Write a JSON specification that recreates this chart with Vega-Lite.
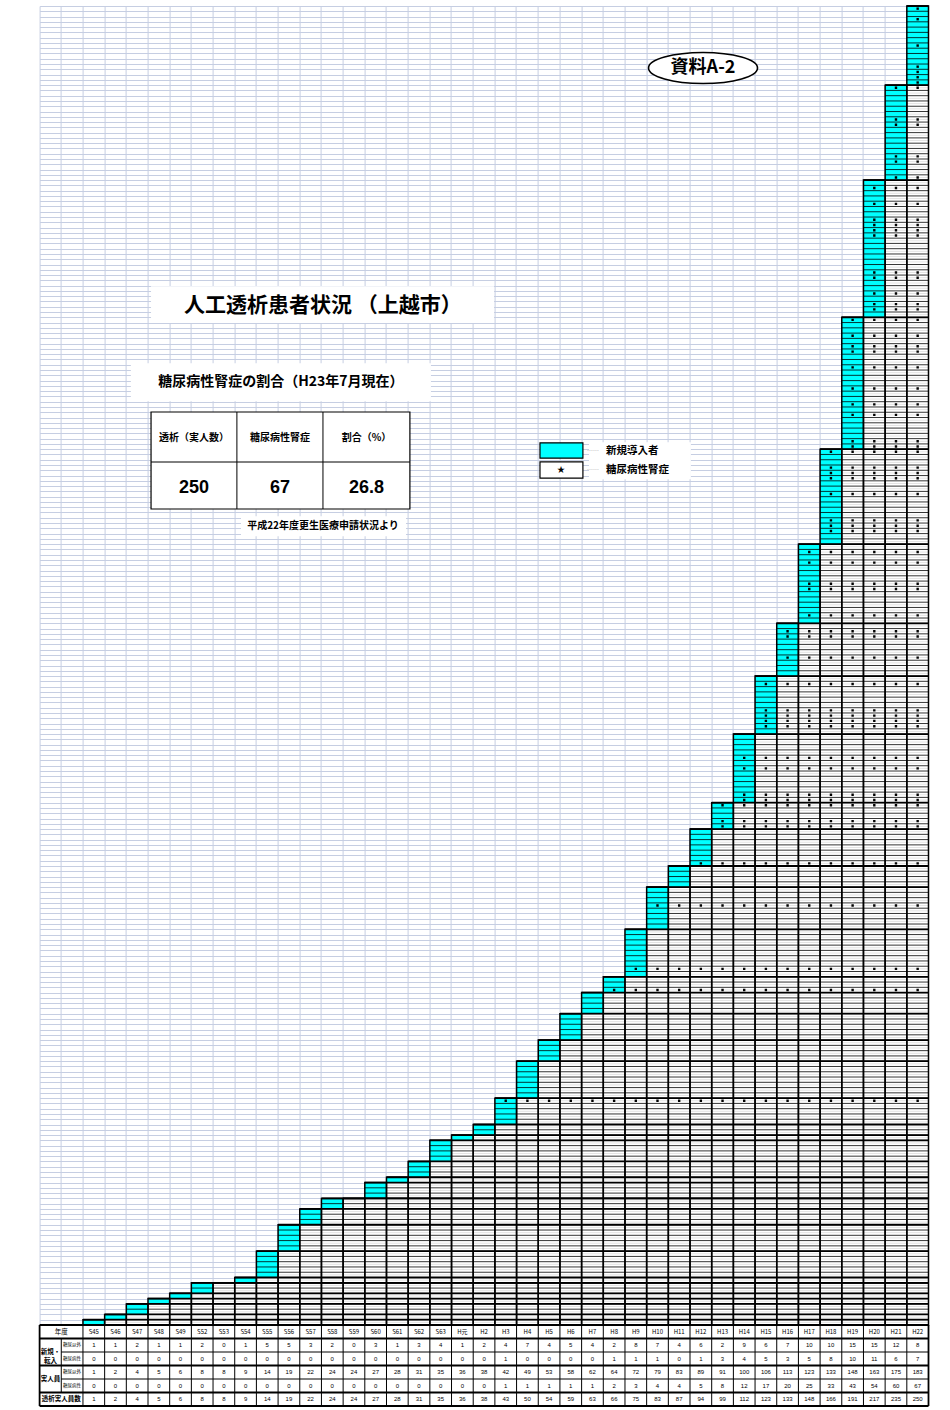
{
"$schema": "https://vega.github.io/schema/vega-lite/v6.json",
"padding": {"left": 38.6, "top": 5, "right": 0, "bottom": 0},
"background": "white",
"spacing": 0,
"bounds": "flush",
"resolve": {"scale": {"x": "independent", "y": "independent"}},
"config": {"view": {"stroke": null}, "font": "Noto Sans CJK JP"},
"datasets": {
"cols": [
{"y":"S45","a":1,"b":0,"c":1,"d":0,"t":1,"p":0},
{"y":"S46","a":1,"b":0,"c":2,"d":0,"t":2,"p":1},
{"y":"S47","a":2,"b":0,"c":4,"d":0,"t":4,"p":2},
{"y":"S48","a":1,"b":0,"c":5,"d":0,"t":5,"p":4},
{"y":"S49","a":1,"b":0,"c":6,"d":0,"t":6,"p":5},
{"y":"S52","a":2,"b":0,"c":8,"d":0,"t":8,"p":6},
{"y":"S53","a":0,"b":0,"c":8,"d":0,"t":8,"p":8},
{"y":"S54","a":1,"b":0,"c":9,"d":0,"t":9,"p":8},
{"y":"S55","a":5,"b":0,"c":14,"d":0,"t":14,"p":9},
{"y":"S56","a":5,"b":0,"c":19,"d":0,"t":19,"p":14},
{"y":"S57","a":3,"b":0,"c":22,"d":0,"t":22,"p":19},
{"y":"S58","a":2,"b":0,"c":24,"d":0,"t":24,"p":22},
{"y":"S59","a":0,"b":0,"c":24,"d":0,"t":24,"p":24},
{"y":"S60","a":3,"b":0,"c":27,"d":0,"t":27,"p":24},
{"y":"S61","a":1,"b":0,"c":28,"d":0,"t":28,"p":27},
{"y":"S62","a":3,"b":0,"c":31,"d":0,"t":31,"p":28},
{"y":"S63","a":4,"b":0,"c":35,"d":0,"t":35,"p":31},
{"y":"H元","a":1,"b":0,"c":36,"d":0,"t":36,"p":35},
{"y":"H2","a":2,"b":0,"c":38,"d":0,"t":38,"p":36},
{"y":"H3","a":4,"b":1,"c":42,"d":1,"t":43,"p":38},
{"y":"H4","a":7,"b":0,"c":49,"d":1,"t":50,"p":43},
{"y":"H5","a":4,"b":0,"c":53,"d":1,"t":54,"p":50},
{"y":"H6","a":5,"b":0,"c":58,"d":1,"t":59,"p":54},
{"y":"H7","a":4,"b":0,"c":62,"d":1,"t":63,"p":59},
{"y":"H8","a":2,"b":1,"c":64,"d":2,"t":66,"p":63},
{"y":"H9","a":8,"b":1,"c":72,"d":3,"t":75,"p":66},
{"y":"H10","a":7,"b":1,"c":79,"d":4,"t":83,"p":75},
{"y":"H11","a":4,"b":0,"c":83,"d":4,"t":87,"p":83},
{"y":"H12","a":6,"b":1,"c":89,"d":5,"t":94,"p":87},
{"y":"H13","a":2,"b":3,"c":91,"d":8,"t":99,"p":94},
{"y":"H14","a":9,"b":4,"c":100,"d":12,"t":112,"p":99},
{"y":"H15","a":6,"b":5,"c":106,"d":17,"t":123,"p":112},
{"y":"H16","a":7,"b":3,"c":113,"d":20,"t":133,"p":123},
{"y":"H17","a":10,"b":5,"c":123,"d":25,"t":148,"p":133},
{"y":"H18","a":10,"b":8,"c":133,"d":33,"t":166,"p":148},
{"y":"H19","a":15,"b":10,"c":148,"d":43,"t":191,"p":166},
{"y":"H20","a":15,"b":11,"c":163,"d":54,"t":217,"p":191},
{"y":"H21","a":12,"b":6,"c":175,"d":60,"t":235,"p":217},
{"y":"H22","a":8,"b":7,"c":183,"d":67,"t":250,"p":235}
],
"pts": [
{"k":1,"s":"S45"},{"k":2,"s":"S46"},{"k":3,"s":"S47"},{"k":4,"s":"S47"},{"k":5,"s":"S48"},{"k":6,"s":"S49"},{"k":7,"s":"S52"},{"k":8,"s":"S52"},{"k":9,"s":"S54"},
{"k":10,"s":"S55"},{"k":11,"s":"S55"},{"k":12,"s":"S55"},{"k":13,"s":"S55"},{"k":14,"s":"S55"},
{"k":15,"s":"S56"},{"k":16,"s":"S56"},{"k":17,"s":"S56"},{"k":18,"s":"S56"},{"k":19,"s":"S56"},
{"k":20,"s":"S57"},{"k":21,"s":"S57"},{"k":22,"s":"S57"},{"k":23,"s":"S58"},{"k":24,"s":"S58"},
{"k":25,"s":"S60"},{"k":26,"s":"S60"},{"k":27,"s":"S60"},{"k":28,"s":"S61"},
{"k":29,"s":"S62"},{"k":30,"s":"S62"},{"k":31,"s":"S62"},
{"k":32,"s":"S63"},{"k":33,"s":"S63"},{"k":34,"s":"S63"},{"k":35,"s":"S63"},
{"k":36,"s":"H元"},{"k":37,"s":"H2"},{"k":38,"s":"H2"},
{"k":39,"s":"H3"},{"k":40,"s":"H3"},{"k":41,"s":"H3"},{"k":42,"s":"H3"},{"k":43,"s":"H3","d":1},
{"k":44,"s":"H4"},{"k":45,"s":"H4"},{"k":46,"s":"H4"},{"k":47,"s":"H4"},{"k":48,"s":"H4"},{"k":49,"s":"H4"},{"k":50,"s":"H4"},
{"k":51,"s":"H5"},{"k":52,"s":"H5"},{"k":53,"s":"H5"},{"k":54,"s":"H5"},
{"k":55,"s":"H6"},{"k":56,"s":"H6"},{"k":57,"s":"H6"},{"k":58,"s":"H6"},{"k":59,"s":"H6"},
{"k":60,"s":"H7"},{"k":61,"s":"H7"},{"k":62,"s":"H7"},{"k":63,"s":"H7"},
{"k":64,"s":"H8","d":1},{"k":65,"s":"H8"},{"k":66,"s":"H8"},
{"k":67,"s":"H9"},{"k":68,"s":"H9","d":1},{"k":69,"s":"H9"},{"k":70,"s":"H9"},{"k":71,"s":"H9"},{"k":72,"s":"H9"},{"k":73,"s":"H9"},{"k":74,"s":"H9"},{"k":75,"s":"H9"},
{"k":76,"s":"H10"},{"k":77,"s":"H10"},{"k":78,"s":"H10"},{"k":79,"s":"H10"},{"k":80,"s":"H10","d":1},{"k":81,"s":"H10"},{"k":82,"s":"H10"},{"k":83,"s":"H10"},
{"k":84,"s":"H11"},{"k":85,"s":"H11"},{"k":86,"s":"H11"},{"k":87,"s":"H11"},
{"k":88,"s":"H12","d":1},{"k":89,"s":"H12"},{"k":90,"s":"H12"},{"k":91,"s":"H12"},{"k":92,"s":"H12"},{"k":93,"s":"H12"},{"k":94,"s":"H12"},
{"k":95,"s":"H13","d":1},{"k":96,"s":"H13","d":1},{"k":97,"s":"H13"},{"k":98,"s":"H13"},{"k":99,"s":"H13","d":1},
{"k":100,"s":"H14","d":1},{"k":101,"s":"H14","d":1},{"k":102,"s":"H14"},{"k":103,"s":"H14"},{"k":104,"s":"H14"},{"k":105,"s":"H14"},{"k":106,"s":"H14","d":1},{"k":107,"s":"H14"},{"k":108,"s":"H14","d":1},{"k":109,"s":"H14"},{"k":110,"s":"H14"},{"k":111,"s":"H14"},{"k":112,"s":"H14"},
{"k":113,"s":"H15"},{"k":114,"s":"H15","d":1},{"k":115,"s":"H15","d":1},{"k":116,"s":"H15","d":1},{"k":117,"s":"H15","d":1},{"k":118,"s":"H15"},{"k":119,"s":"H15"},{"k":120,"s":"H15"},{"k":121,"s":"H15"},{"k":122,"s":"H15","d":1},{"k":123,"s":"H15"},
{"k":124,"s":"H16"},{"k":125,"s":"H16"},{"k":126,"s":"H16"},{"k":127,"s":"H16","d":1},{"k":128,"s":"H16"},{"k":129,"s":"H16"},{"k":130,"s":"H16"},{"k":131,"s":"H16","d":1},{"k":132,"s":"H16","d":1},{"k":133,"s":"H16"},
{"k":134,"s":"H17"},{"k":135,"s":"H17","d":1},{"k":136,"s":"H17"},{"k":137,"s":"H17"},{"k":138,"s":"H17"},{"k":139,"s":"H17"},{"k":140,"s":"H17","d":1},{"k":141,"s":"H17","d":1},{"k":142,"s":"H17"},{"k":143,"s":"H17"},{"k":144,"s":"H17"},{"k":145,"s":"H17","d":1},{"k":146,"s":"H17"},{"k":147,"s":"H17","d":1},{"k":148,"s":"H17"},
{"k":149,"s":"H18"},{"k":150,"s":"H18"},{"k":151,"s":"H18","d":1},{"k":152,"s":"H18","d":1},{"k":153,"s":"H18","d":1},{"k":154,"s":"H18"},{"k":155,"s":"H18"},{"k":156,"s":"H18"},{"k":157,"s":"H18"},{"k":158,"s":"H18","d":1},{"k":159,"s":"H18"},{"k":160,"s":"H18"},{"k":161,"s":"H18","d":1},{"k":162,"s":"H18","d":1},{"k":163,"s":"H18","d":1},{"k":164,"s":"H18"},{"k":165,"s":"H18"},{"k":166,"s":"H18","d":1},
{"k":167,"s":"H19","d":1},{"k":168,"s":"H19","d":1},{"k":169,"s":"H19"},{"k":170,"s":"H19"},{"k":171,"s":"H19"},{"k":172,"s":"H19"},{"k":173,"s":"H19","d":1},{"k":174,"s":"H19"},{"k":175,"s":"H19","d":1},{"k":176,"s":"H19"},{"k":177,"s":"H19"},{"k":178,"s":"H19","d":1},{"k":179,"s":"H19"},{"k":180,"s":"H19"},{"k":181,"s":"H19"},{"k":182,"s":"H19","d":1},{"k":183,"s":"H19"},{"k":184,"s":"H19"},{"k":185,"s":"H19","d":1},{"k":186,"s":"H19","d":1},{"k":187,"s":"H19"},{"k":188,"s":"H19","d":1},{"k":189,"s":"H19"},{"k":190,"s":"H19"},{"k":191,"s":"H19","d":1},
{"k":192,"s":"H20"},{"k":193,"s":"H20","d":1},{"k":194,"s":"H20","d":1},{"k":195,"s":"H20"},{"k":196,"s":"H20","d":1},{"k":197,"s":"H20"},{"k":198,"s":"H20"},{"k":199,"s":"H20","d":1},{"k":200,"s":"H20","d":1},{"k":201,"s":"H20"},{"k":202,"s":"H20"},{"k":203,"s":"H20"},{"k":204,"s":"H20"},{"k":205,"s":"H20"},{"k":206,"s":"H20"},{"k":207,"s":"H20","d":1},{"k":208,"s":"H20","d":1},{"k":209,"s":"H20","d":1},{"k":210,"s":"H20","d":1},{"k":211,"s":"H20"},{"k":212,"s":"H20"},{"k":213,"s":"H20","d":1},{"k":214,"s":"H20"},{"k":215,"s":"H20"},{"k":216,"s":"H20","d":1},{"k":217,"s":"H20"},
{"k":218,"s":"H21","d":1},{"k":219,"s":"H21"},{"k":220,"s":"H21"},{"k":221,"s":"H21","d":1},{"k":222,"s":"H21","d":1},{"k":223,"s":"H21"},{"k":224,"s":"H21"},{"k":225,"s":"H21"},{"k":226,"s":"H21"},{"k":227,"s":"H21"},{"k":228,"s":"H21","d":1},{"k":229,"s":"H21","d":1},{"k":230,"s":"H21"},{"k":231,"s":"H21"},{"k":232,"s":"H21"},{"k":233,"s":"H21"},{"k":234,"s":"H21"},{"k":235,"s":"H21","d":1},
{"k":236,"s":"H22","d":1},{"k":237,"s":"H22","d":1},{"k":238,"s":"H22","d":1},{"k":239,"s":"H22","d":1},{"k":240,"s":"H22"},{"k":241,"s":"H22"},{"k":242,"s":"H22"},{"k":243,"s":"H22","d":1},{"k":244,"s":"H22"},{"k":245,"s":"H22"},{"k":246,"s":"H22"},{"k":247,"s":"H22"},{"k":248,"s":"H22","d":1},{"k":249,"s":"H22"},{"k":250,"s":"H22","d":1}
]
},
"vconcat": [
{
"width": 888.9,
"height": 1319,
"layer": [
{"data":{"name":"cols"},"mark":{"type":"bar","fill":"white","stroke":null},
"encoding":{
"x":{"field":"y","type":"nominal","title":null,"scale":{"domain":["L1","L2","S45","S46","S47","S48","S49","S52","S53","S54","S55","S56","S57","S58","S59","S60","S61","S62","S63","H元","H2","H3","H4","H5","H6","H7","H8","H9","H10","H11","H12","H13","H14","H15","H16","H17","H18","H19","H20","H21","H22"],"paddingInner":0,"paddingOuter":0},"axis":{"title":null,"grid":true,"bandPosition":0,"labels":false,"ticks":false,"domain":false,"gridColor":"#c6cee2","gridWidth":1,"minExtent":0,"maxExtent":0}},
"y":{"field":"t","type":"quantitative","title":null,"scale":{"domain":[0,250],"nice":false},"axis":{"title":null,"grid":true,"tickCount":250,"labels":false,"ticks":false,"domain":false,"gridColor":"#c6cee2","gridWidth":1,"minExtent":0,"maxExtent":0}},
"y2":{"datum":0}}},
{"data":{"name":"cols"},"mark":{"type":"bar","fill":"#00ffff","stroke":null},
"encoding":{"x":{"field":"y","type":"nominal","title":null},"y":{"field":"t","type":"quantitative","title":null},"y2":{"field":"p"}}},
{"data":{"name":"pts"},"mark":{"type":"rule","stroke":"#dadada","strokeWidth":0.8,"yOffset":2.64,"xOffset":21.68},
"encoding":{"x":{"field":"s","type":"nominal","bandPosition":0,"title":null},"x2":{"datum":"H22","bandPosition":1},"y":{"field":"k","type":"quantitative","title":null}}},
{"data":{"name":"pts"},"mark":{"type":"rule","stroke":"#000000","strokeWidth":0.8},
"encoding":{"x":{"field":"s","type":"nominal","bandPosition":0,"title":null},"x2":{"datum":"H22","bandPosition":1},"y":{"field":"k","type":"quantitative","title":null}}},
{"data":{"name":"cols"},"mark":{"type":"rule","stroke":"#000000","strokeWidth":1.8},
"encoding":{"x":{"field":"y","type":"nominal","bandPosition":0,"title":null},"x2":{"datum":"H22","bandPosition":1},"y":{"field":"t","type":"quantitative","title":null}}},
{"data":{"name":"cols"},"mark":{"type":"bar","fillOpacity":0,"stroke":"#000000","strokeWidth":1.5},
"encoding":{"x":{"field":"y","type":"nominal","title":null},"y":{"field":"t","type":"quantitative","title":null},"y2":{"datum":0}}},
{"data":{"name":"pts"},"transform":[{"filter":"datum.d == 1"}],"mark":{"type":"rule","stroke":"#000000","strokeWidth":2.4,"strokeDash":[2.4,19.28],"xOffset":-1.2,"yOffset":2.64},
"encoding":{"x":{"field":"s","type":"nominal","bandPosition":0.5,"title":null},"x2":{"datum":"H22","bandPosition":0.7},"y":{"field":"k","type":"quantitative","title":null}}},

{"data":{"values":[{}]},"mark":{"type":"rect","fill":"white"},
"encoding":{"x":{"datum":"S48","type":"nominal","bandPosition":0.14,"title":null},"x2":{"datum":"H2","bandPosition":0.96},"y":{"datum":196.9,"type":"quantitative","title":null},"y2":{"datum":189.9}}},
{"data":{"values":[{}]},"mark":{"type":"text","fontSize":21,"fontWeight":"bold","align":"center","baseline":"middle","font":"Noto Sans CJK JP","color":"#000000"},
"encoding":{"x":{"datum":"S58","type":"nominal","bandPosition":0.07,"title":null},"y":{"datum":193.1,"type":"quantitative","title":null},"text":{"value":"人工透析患者状況 （上越市）"}}},

{"data":{"values":[{}]},"mark":{"type":"rect","fill":"white"},
"encoding":{"x":{"datum":"S47","type":"nominal","bandPosition":0.21,"title":null},"x2":{"datum":"S63","bandPosition":0.05},"y":{"datum":182.3,"type":"quantitative","title":null},"y2":{"datum":175.1}}},
{"data":{"values":[{}]},"mark":{"type":"text","fontSize":14,"fontWeight":"bold","align":"center","baseline":"middle","font":"Noto Sans CJK JP","color":"#000000"},
"encoding":{"x":{"datum":"S56","type":"nominal","bandPosition":0.13,"title":null},"y":{"datum":178.7,"type":"quantitative","title":null},"text":{"value":"糖尿病性腎症の割合（H23年7月現在）"}}},

{"data":{"values":[{}]},"mark":{"type":"rect","fill":"white","stroke":"#000000","strokeWidth":1.2},
"encoding":{"x":{"datum":"S48","type":"nominal","bandPosition":0.14,"title":null},"x2":{"datum":"S62","bandPosition":0.08},"y":{"datum":173.05,"type":"quantitative","title":null},"y2":{"datum":154.66}}},
{"data":{"values":[{}]},"mark":{"type":"rule","stroke":"#000000","strokeWidth":1},
"encoding":{"x":{"datum":"S48","type":"nominal","bandPosition":0.14,"title":null},"x2":{"datum":"S62","bandPosition":0.08},"y":{"datum":163.57,"type":"quantitative","title":null}}},
{"data":{"values":[{}]},"mark":{"type":"rule","stroke":"#000000","strokeWidth":1},
"encoding":{"x":{"datum":"S54","type":"nominal","bandPosition":0.1,"title":null},"y":{"datum":173.05,"type":"quantitative","title":null},"y2":{"datum":154.66}}},
{"data":{"values":[{}]},"mark":{"type":"rule","stroke":"#000000","strokeWidth":1},
"encoding":{"x":{"datum":"S58","type":"nominal","bandPosition":0.07,"title":null},"y":{"datum":173.05,"type":"quantitative","title":null},"y2":{"datum":154.66}}},
{"data":{"values":[{}]},"mark":{"type":"text","fontSize":10,"fontWeight":"bold","align":"center","baseline":"middle","font":"Noto Sans CJK JP"},
"encoding":{"x":{"datum":"S52","type":"nominal","bandPosition":0.12,"title":null},"y":{"datum":168.1,"type":"quantitative","title":null},"text":{"value":"透析（実人数）"}}},
{"data":{"values":[{}]},"mark":{"type":"text","fontSize":10,"fontWeight":"bold","align":"center","baseline":"middle","font":"Noto Sans CJK JP"},
"encoding":{"x":{"datum":"S56","type":"nominal","bandPosition":0.09,"title":null},"y":{"datum":168.1,"type":"quantitative","title":null},"text":{"value":"糖尿病性腎症"}}},
{"data":{"values":[{}]},"mark":{"type":"text","fontSize":10,"fontWeight":"bold","align":"center","baseline":"middle","font":"Noto Sans CJK JP"},
"encoding":{"x":{"datum":"S60","type":"nominal","bandPosition":0.08,"title":null},"y":{"datum":168.1,"type":"quantitative","title":null},"text":{"value":"割合（%）"}}},
{"data":{"values":[{}]},"mark":{"type":"text","fontSize":18,"fontWeight":"bold","align":"center","baseline":"middle","font":"Liberation Sans"},
"encoding":{"x":{"datum":"S52","type":"nominal","bandPosition":0.12,"title":null},"y":{"datum":158.6,"type":"quantitative","title":null},"text":{"value":"250"}}},
{"data":{"values":[{}]},"mark":{"type":"text","fontSize":18,"fontWeight":"bold","align":"center","baseline":"middle","font":"Liberation Sans"},
"encoding":{"x":{"datum":"S56","type":"nominal","bandPosition":0.09,"title":null},"y":{"datum":158.6,"type":"quantitative","title":null},"text":{"value":"67"}}},
{"data":{"values":[{}]},"mark":{"type":"text","fontSize":18,"fontWeight":"bold","align":"center","baseline":"middle","font":"Liberation Sans"},
"encoding":{"x":{"datum":"S60","type":"nominal","bandPosition":0.08,"title":null},"y":{"datum":158.6,"type":"quantitative","title":null},"text":{"value":"26.8"}}},

{"data":{"values":[{}]},"mark":{"type":"rect","fill":"white"},
"encoding":{"x":{"datum":"S54","type":"nominal","bandPosition":0.29,"title":null},"x2":{"datum":"S61","bandPosition":0.9},"y":{"datum":153.3,"type":"quantitative","title":null},"y2":{"datum":149.5}}},
{"data":{"values":[{}]},"mark":{"type":"text","fontSize":10,"fontWeight":"bold","align":"center","baseline":"middle","font":"Noto Sans CJK JP"},
"encoding":{"x":{"datum":"S58","type":"nominal","bandPosition":0.07,"title":null},"y":{"datum":151.4,"type":"quantitative","title":null},"text":{"value":"平成22年度更生医療申請状況より"}}},

{"data":{"values":[{}]},"mark":{"type":"rect","fill":"white"},
"encoding":{"x":{"datum":"H7","type":"nominal","bandPosition":0.34,"title":null},"x2":{"datum":"H12","bandPosition":0.04},"y":{"datum":167.3,"type":"quantitative","title":null},"y2":{"datum":160.3}}},
{"data":{"values":[{}]},"mark":{"type":"rect","fill":"#00ffff","stroke":"#000000","strokeWidth":1.2},
"encoding":{"x":{"datum":"H5","type":"nominal","bandPosition":0.08,"title":null},"x2":{"datum":"H7","bandPosition":0.06},"y":{"datum":167.2,"type":"quantitative","title":null},"y2":{"datum":164.3}}},
{"data":{"values":[{}]},"mark":{"type":"rect","fill":"white","stroke":"#000000","strokeWidth":1.2},
"encoding":{"x":{"datum":"H5","type":"nominal","bandPosition":0.08,"title":null},"x2":{"datum":"H7","bandPosition":0.06},"y":{"datum":163.6,"type":"quantitative","title":null},"y2":{"datum":160.5}}},
{"data":{"values":[{}]},"mark":{"type":"text","fontSize":8,"align":"center","baseline":"middle","font":"Noto Sans CJK JP"},
"encoding":{"x":{"datum":"H6","type":"nominal","bandPosition":0.05,"title":null},"y":{"datum":162.05,"type":"quantitative","title":null},"text":{"value":"★"}}},
{"data":{"values":[{}]},"mark":{"type":"text","fontSize":6,"align":"center","baseline":"middle","color":"#999999"},
"encoding":{"x":{"datum":"H7","type":"nominal","bandPosition":0.52,"title":null},"y":{"datum":165.65,"type":"quantitative","title":null},"text":{"value":"……"}}},
{"data":{"values":[{}]},"mark":{"type":"text","fontSize":6,"align":"center","baseline":"middle","color":"#999999"},
"encoding":{"x":{"datum":"H7","type":"nominal","bandPosition":0.52,"title":null},"y":{"datum":162.05,"type":"quantitative","title":null},"text":{"value":"……"}}},
{"data":{"values":[{}]},"mark":{"type":"text","fontSize":10.5,"fontWeight":"bold","align":"left","baseline":"middle","font":"Noto Sans CJK JP"},
"encoding":{"x":{"datum":"H8","type":"nominal","bandPosition":0.12,"title":null},"y":{"datum":165.65,"type":"quantitative","title":null},"text":{"value":"新規導入者"}}},
{"data":{"values":[{}]},"mark":{"type":"text","fontSize":10.5,"fontWeight":"bold","align":"left","baseline":"middle","font":"Noto Sans CJK JP"},
"encoding":{"x":{"datum":"H8","type":"nominal","bandPosition":0.12,"title":null},"y":{"datum":162.05,"type":"quantitative","title":null},"text":{"value":"糖尿病性腎症"}}},

{"data":{"values":[{}]},"mark":{"type":"point","shape":"M-1,0A1,0.284,0,1,1,1,0A1,0.284,0,1,1,-1,0Z","size":11881,"filled":true,"fill":"white","stroke":"#000000","strokeWidth":1.6,"opacity":1},
"encoding":{"x":{"datum":"H12","type":"nominal","bandPosition":0.6,"title":null},"y":{"datum":238.25,"type":"quantitative","title":null}}},
{"data":{"values":[{}]},"mark":{"type":"text","fontSize":18,"fontWeight":"bold","align":"center","baseline":"middle","font":"Noto Sans CJK JP"},
"encoding":{"x":{"datum":"H12","type":"nominal","bandPosition":0.6,"title":null},"y":{"datum":238.25,"type":"quantitative","title":null},"text":{"value":"資料A-2"}}}
]
},
{
"width": 888.9,
"height": 81,
"layer": [
{"data":{"name":"cols"},"mark":{"type":"rule","stroke":"#000000","strokeWidth":1},
"encoding":{"x":{"field":"y","type":"nominal","bandPosition":0,"scale":{"domain":["L1","L2","S45","S46","S47","S48","S49","S52","S53","S54","S55","S56","S57","S58","S59","S60","S61","S62","S63","H元","H2","H3","H4","H5","H6","H7","H8","H9","H10","H11","H12","H13","H14","H15","H16","H17","H18","H19","H20","H21","H22"],"paddingInner":0,"paddingOuter":0},"axis":null}}},
{"data":{"values":[{"r":"h"},{"r":"a"},{"r":"c"},{"r":"t"}]},"mark":{"type":"rule","stroke":"#000000","strokeWidth":1.8},
"encoding":{"y":{"field":"r","type":"nominal","bandPosition":0,"scale":{"domain":["h","a","b","c","d","t"],"paddingInner":0,"paddingOuter":0},"axis":null}}},
{"data":{"values":[{}]},"mark":{"type":"rule","stroke":"#000000","strokeWidth":1.8},
"encoding":{"y":{"datum":"t","type":"nominal","bandPosition":1,"axis":null}}},
{"data":{"values":[{"r":"b"},{"r":"d"}]},"mark":{"type":"rule","stroke":"#000000","strokeWidth":1},
"encoding":{"x":{"datum":"L2","type":"nominal","bandPosition":0,"axis":null},"x2":{"datum":"H22","bandPosition":1},"y":{"field":"r","type":"nominal","bandPosition":0,"axis":null}}},
{"data":{"values":[{}]},"mark":{"type":"rule","stroke":"#000000","strokeWidth":1.8},
"encoding":{"x":{"datum":"H22","type":"nominal","bandPosition":1,"axis":null}}},
{"data":{"values":[{}]},"mark":{"type":"rule","stroke":"#000000","strokeWidth":1.8},
"encoding":{"x":{"datum":"L1","type":"nominal","bandPosition":0,"axis":null}}},
{"data":{"values":[{}]},"mark":{"type":"rule","stroke":"#000000","strokeWidth":1},
"encoding":{"x":{"datum":"L2","type":"nominal","bandPosition":0,"axis":null},"y":{"datum":"a","type":"nominal","bandPosition":0,"axis":null},"y2":{"datum":"d","bandPosition":1}}},
{"data":{"name":"cols"},"mark":{"type":"text","fontSize":6,"align":"center","baseline":"middle","font":"Noto Sans CJK JP"},
"encoding":{"x":{"field":"y","type":"nominal","axis":null},"y":{"datum":"h","type":"nominal","axis":null},"text":{"field":"y"}}},
{"data":{"name":"cols"},"transform":[{"fold":["a","b","c","d","t"],"as":["key","value"]}],"mark":{"type":"text","fontSize":6,"align":"center","baseline":"middle","font":"Liberation Sans"},
"encoding":{"x":{"field":"y","type":"nominal","axis":null},"y":{"field":"key","type":"nominal","axis":null},"text":{"field":"value","type":"nominal"}}},
{"data":{"values":[{}]},"mark":{"type":"text","fontSize":6.5,"align":"center","baseline":"middle","font":"Noto Sans CJK JP"},
"encoding":{"x":{"datum":"L2","type":"nominal","bandPosition":0,"axis":null},"y":{"datum":"h","type":"nominal","axis":null},"text":{"value":"年度"}}},
{"data":{"values":[{}]},"mark":{"type":"text","fontSize":6.5,"fontWeight":"bold","align":"center","baseline":"middle","lineHeight":9,"font":"Noto Sans CJK JP"},
"encoding":{"x":{"datum":"L1","type":"nominal","axis":null},"y":{"datum":"b","type":"nominal","bandPosition":0,"axis":null},"text":{"value":["新規・","転入"]}}},
{"data":{"values":[{}]},"mark":{"type":"text","fontSize":6.5,"fontWeight":"bold","align":"center","baseline":"middle","font":"Noto Sans CJK JP"},
"encoding":{"x":{"datum":"L1","type":"nominal","axis":null},"y":{"datum":"d","type":"nominal","bandPosition":0,"axis":null},"text":{"value":"実人員"}}},
{"data":{"values":[{"r":"a","l":"糖尿以外"},{"r":"b","l":"糖尿病性"},{"r":"c","l":"糖尿以外"},{"r":"d","l":"糖尿病性"}]},"mark":{"type":"text","fontSize":4.5,"align":"center","baseline":"middle","font":"Noto Sans CJK JP"},
"encoding":{"x":{"datum":"L2","type":"nominal","axis":null},"y":{"field":"r","type":"nominal","axis":null},"text":{"field":"l"}}},
{"data":{"values":[{}]},"mark":{"type":"text","fontSize":6.5,"fontWeight":"bold","align":"center","baseline":"middle","font":"Noto Sans CJK JP"},
"encoding":{"x":{"datum":"L2","type":"nominal","bandPosition":0,"axis":null},"y":{"datum":"t","type":"nominal","axis":null},"text":{"value":"透析実人員数"}}}
]
}
]
}
